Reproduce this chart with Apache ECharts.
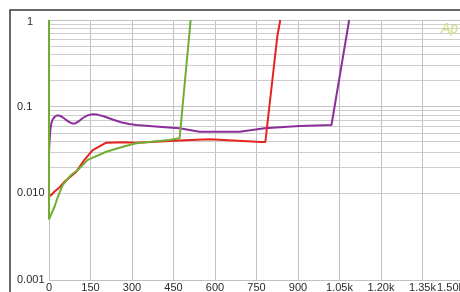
<!DOCTYPE html>
<html>
<head>
<meta charset="utf-8">
<script src="https://cdn.jsdelivr.net/npm/echarts@6/dist/echarts.min.js"></script>
<style>html,body{margin:0;padding:0;background:#fff}#c{width:460px;height:292px}</style>
</head>
<body>
<div id="c"></div>
<script>
var xTicks = [0, 150, 300, 450, 600, 750, 900, 1050, 1200, 1350, 1500];
var yTicks = [0.001, 0.01, 0.1, 1];
var yTickLabels = ['0.001', '0.010', '0.1', '1'];

var purpleX = [0, 2, 5, 9, 14, 20, 28, 38, 48, 60, 75, 85, 95, 108, 122, 138, 157, 175, 200, 230, 260, 290, 316, 363, 420, 472, 544, 689, 779, 906, 1021, 1085];
var purpleY = [0.029, 0.040, 0.055, 0.065, 0.072, 0.076, 0.079, 0.079, 0.076, 0.071, 0.066, 0.064, 0.064, 0.068, 0.074, 0.079, 0.082, 0.081, 0.077, 0.071, 0.066, 0.063, 0.0615, 0.060, 0.058, 0.0563, 0.0514, 0.0514, 0.0563, 0.0598, 0.0615, 1];

var redX = [0, 5, 12, 20, 38, 56, 99, 128, 158, 207, 267, 315, 472, 580, 768, 782, 825, 836];
var redY = [0.0092, 0.0090, 0.0098, 0.0105, 0.0117, 0.0136, 0.0178, 0.0243, 0.0316, 0.0384, 0.0388, 0.0384, 0.0407, 0.042, 0.0391, 0.0391, 0.64, 1];

var greenX = [0, 0, 2, 20, 32, 50, 80, 104, 140, 207, 267, 315, 435, 472, 512];
var greenY = [1, 0.005, 0.0050, 0.0070, 0.0091, 0.0125, 0.0163, 0.0186, 0.0243, 0.0302, 0.0345, 0.0378, 0.0412, 0.0432, 1];

function pairs(xs, ys) { return xs.map(function (x, i) { return [x, ys[i]]; }); }

var minorGrid = [];
for (var d = 0.001; d < 1; d *= 10) {
  for (var m = 2; m <= 9; m++) minorGrid.push({ yAxis: +(d * m).toPrecision(3) });
}

var FONT = 'Liberation Sans, Arial, sans-serif';
var chart = echarts.init(document.getElementById('c'));
chart.setOption({
  animation: false,
  backgroundColor: '#fff',
  grid: { left: 49, right: -4, top: 20, bottom: 12, containLabel: false, outerBoundsMode: 'none' },
  xAxis: {
    type: 'value', min: 0, max: 1500, interval: 150,
    axisLine: { show: false }, axisTick: { show: false },
    axisLabel: {
      color: '#2a2a2a', fontSize: 11, fontFamily: FONT, margin: 2,
      alignMaxLabel: 'right', hideOverlap: false,
      formatter: function (v) { return v >= 1000 ? (v / 1000).toFixed(2) + 'k' : String(v); }
    },
    splitLine: { show: true, lineStyle: { color: '#c2c2c2', width: 1 } }
  },
  yAxis: {
    type: 'log', logBase: 10, min: 0.001, max: 1,
    axisLine: { show: false }, axisTick: { show: false },
    axisLabel: {
      color: '#2a2a2a', fontSize: 11, fontFamily: FONT,
      align: 'left', margin: 32,
      formatter: function (v) {
        for (var i = 0; i < yTicks.length; i++) {
          if (Math.abs(Math.log10(v) - Math.log10(yTicks[i])) < 1e-6) {
            return yTickLabels[i] === '1' ? '{one|1}' : yTickLabels[i];
          }
        }
        return '';
      },
      rich: { one: { padding: [4, 0, 0, 10], fontSize: 11, color: '#2a2a2a', fontFamily: FONT } }
    },
    splitLine: { show: true, lineStyle: { color: '#c2c2c2', width: 1 } }
  },
  series: [
    {
      type: 'line', data: pairs(purpleX, purpleY), showSymbol: false,
      lineStyle: { color: '#8b2f9b', width: 2 }, clip: true,
      markLine: {
        silent: true, symbol: 'none', label: { show: false },
        lineStyle: { color: '#cdcdcd', width: 1, type: 'solid' },
        data: minorGrid, z: 1
      }
    },
    {
      type: 'line', data: pairs(redX, redY), showSymbol: false,
      lineStyle: { color: '#e52420', width: 2 }, clip: true
    },
    {
      type: 'line', data: pairs(greenX, greenY), showSymbol: false,
      lineStyle: { color: '#72ad32', width: 2 }, clip: true
    }
  ],
  graphic: [
    { type: 'rect', shape: { x: 10, y: 10, width: 600, height: 400 }, style: { fill: 'none', stroke: '#3a3a3a', lineWidth: 1.5 }, z: 100 },
    { type: 'text', x: 441, y: 22, style: { text: 'Ap', fill: '#d6dc86', font: 'italic 14px Liberation Sans, Arial, sans-serif' }, z: 100 }
  ]
});
</script>
</body>
</html>
